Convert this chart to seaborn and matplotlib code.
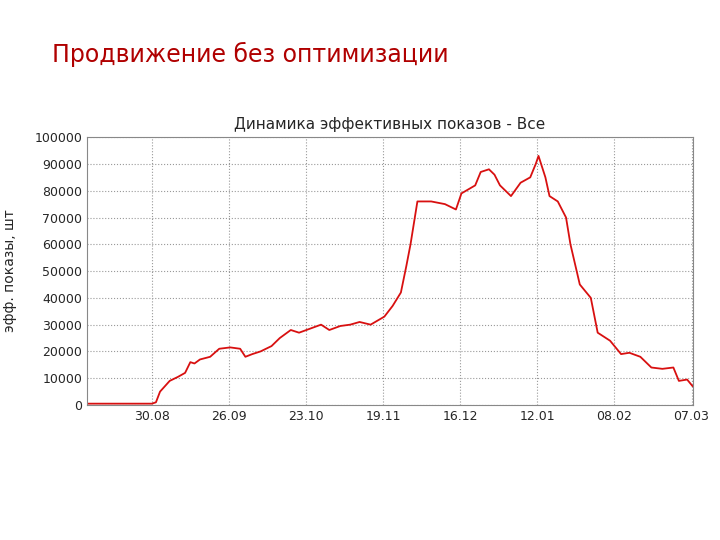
import matplotlib
matplotlib.use("Agg")
import matplotlib.pyplot as plt
import seaborn as sns
import pandas as pd

# day index from start of period and number of effective impressions
days = [0, 10, 20, 23.5, 25, 26.5, 30, 33, 35.6, 37.5, 39, 41, 44.7, 48, 52, 55.6, 57.5, 60, 63, 67,
        70, 74, 77, 81, 85, 88, 92, 95.6, 99, 103, 108, 111, 114, 116, 117.5, 120, 125, 130, 134,
        136, 141, 143, 146, 148, 150, 154, 157.5, 161, 163, 164, 166.5, 168, 171, 174, 175.6, 179,
        183, 185.5, 190, 194, 197, 201, 205, 209, 213, 215, 218, 220]
shows = [500, 500, 500, 500, 1000, 5000, 9000, 10500, 12000, 16000, 15500, 17000, 18000, 21000,
         21500, 21000, 18000, 19000, 20000, 22000, 25000, 28000, 27000, 28500, 30000, 28000, 29500,
         30000, 31000, 30000, 33000, 37000, 42000, 52000, 60000, 76000, 76000, 75000, 73000,
         79000, 82000, 87000, 88000, 86000, 82000, 78000, 83000, 85000, 90000, 93000, 85000,
         78000, 76000, 70000, 60000, 45000, 40000, 27000, 24000, 19000, 19500, 18000, 14000,
         13500, 14000, 9000, 9500, 7000]
tick_labels = ["30.08", "26.09", "23.10", "19.11", "16.12", "12.01", "08.02", "07.03"]
tick_days = [23.6 + 28 * i for i in range(len(tick_labels))]

df = pd.DataFrame({"day": days, "shows": shows})

sns.set_style("white")
plt.rcParams["font.family"] = ["DejaVu Sans"]

fig = plt.figure(figsize=(7.2, 5.4), dpi=100)
fig.text(0.072, 0.885, "Продвижение без оптимизации", color="#b00000", fontsize=17)

ax = fig.add_axes([0.121, 0.25, 0.841, 0.496])
sns.lineplot(data=df, x="day", y="shows", ax=ax, color="#d81010", linewidth=1.3)
ax.set_xlim(0, 220)
ax.set_ylim(0, 100000)
ax.set_yticks(range(0, 100001, 10000))
ax.set_xticks(tick_days)
ax.set_xticklabels(tick_labels)
ax.tick_params(labelsize=9, length=0)
ax.grid(True, linestyle=":", color="#999999", linewidth=0.8)
for s in ax.spines.values():
    s.set_color("#888888")
    s.set_linewidth(0.8)
ax.set_xlabel("")
ax.set_ylabel("эфф. показы, шт", fontsize=10)
ax.yaxis.set_label_coords(-0.115, 0.5)
ax.set_title("Динамика эффективных показов - Все", fontsize=11, pad=6)

fig.savefig("out.png", dpi=100)
